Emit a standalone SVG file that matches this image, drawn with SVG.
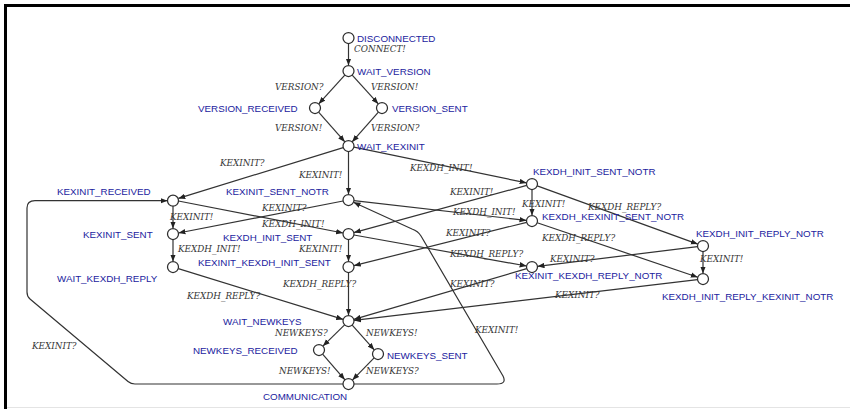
<svg xmlns="http://www.w3.org/2000/svg" width="850" height="409" viewBox="0 0 850 409">
  <style>
    .st circle { fill: #ffffff; stroke: #2e2e2e; stroke-width: 1.25; }
    .st text { font-family: "Liberation Sans", Arial, sans-serif; font-size: 9.8px; fill: #22229e; }
    .edges path, .edges line { fill: none; stroke: #333333; stroke-width: 1.2; marker-end: url(#arr); }
    .lbl { font-family: "DejaVu Serif", "Liberation Serif", serif; font-style: italic; font-size: 8.8px; fill: #353535; }
  </style>
  <defs>
    <marker id="arr" markerUnits="userSpaceOnUse" markerWidth="8" markerHeight="6" refX="7" refY="3" orient="auto">
      <path d="M0,0.3 L7,3 L0,5.7 Z" fill="#222222"/>
    </marker>
  </defs>

  <rect width="850" height="409" fill="#ffffff"/>
  <!-- frame -->
  <path d="M5.5,409 V5.5 H850" fill="none" stroke="#000000" stroke-width="3"/>
  <line x1="7" y1="407.5" x2="850" y2="407.5" stroke="#e4e4e4" stroke-width="1"/>

  <!-- transitions -->
  <g class="edges">
    <line x1="348.5" y1="43.5" x2="348.5" y2="65.5"/>
    <line x1="344.8" y1="75.1" x2="318.7" y2="103.9"/>
    <line x1="352.2" y1="75.1" x2="378.3" y2="103.9"/>
    <line x1="318.6" y1="112.1" x2="344.9" y2="141.9"/>
    <line x1="378.4" y1="112.1" x2="352.1" y2="141.9"/>
    <line x1="343.2" y1="147.6" x2="178.3" y2="198.4"/>
    <line x1="348.5" y1="151.5" x2="348.5" y2="194.5"/>
    <line x1="353.9" y1="147.1" x2="526.6" y2="182.9"/>
    <line x1="173" y1="205.5" x2="173" y2="228.5"/>
    <line x1="343.1" y1="201.0" x2="178.4" y2="233.0"/>
    <line x1="178.4" y1="201.0" x2="343.1" y2="233.0"/>
    <line x1="173" y1="239.5" x2="173" y2="261.5"/>
    <line x1="348.5" y1="239.5" x2="348.5" y2="261.5"/>
    <line x1="348.5" y1="272.5" x2="348.5" y2="315.5"/>
    <line x1="178.3" y1="268.6" x2="343.2" y2="319.4"/>
    <line x1="526.7" y1="185.4" x2="353.8" y2="232.6"/>
    <line x1="354.0" y1="200.6" x2="526.5" y2="220.4"/>
    <line x1="526.7" y1="222.3" x2="353.8" y2="265.7"/>
    <line x1="353.9" y1="235.0" x2="526.6" y2="266.0"/>
    <line x1="532" y1="189.5" x2="532" y2="215.5"/>
    <line x1="537.2" y1="185.9" x2="697.8" y2="244.1"/>
    <line x1="537.2" y1="222.8" x2="697.8" y2="277.2"/>
    <line x1="697.5" y1="246.7" x2="537.5" y2="266.3"/>
    <line x1="703" y1="251.5" x2="703" y2="273.5"/>
    <line x1="526.7" y1="268.6" x2="353.8" y2="319.4"/>
    <line x1="697.5" y1="279.6" x2="354.0" y2="320.4"/>
    <line x1="344.6" y1="324.9" x2="322.9" y2="346.1"/>
    <line x1="352.2" y1="325.1" x2="374.3" y2="349.9"/>
    <line x1="322.6" y1="354.2" x2="344.9" y2="379.8"/>
    <line x1="374.1" y1="357.9" x2="352.4" y2="380.1"/>
    <path d="M343,384 L135,384 Q131,384 128,381.5 L30,299 Q27,296.5 27,292 L27,208 Q27,200.7 35,200.7 L167.5,200.7"/>
    <path d="M354,384 L497,384 Q507,384 503,376 L421,236 Q418,231 412,229 L353.5,202.3"/>
  </g>

  <!-- transition labels -->
  <g class="lbl">
    <text x="354" y="52">CONNECT!</text>
    <text x="275" y="90">VERSION?</text>
    <text x="371" y="90">VERSION!</text>
    <text x="275" y="131">VERSION!</text>
    <text x="371" y="131">VERSION?</text>
    <text x="220" y="166">KEXINIT?</text>
    <text x="299" y="178">KEXINIT!</text>
    <text x="410" y="171">KEXDH_INIT!</text>
    <text x="170" y="220">KEXINIT!</text>
    <text x="262" y="211">KEXINIT?</text>
    <text x="262" y="227">KEXDH_INIT!</text>
    <text x="178" y="252">KEXDH_INIT!</text>
    <text x="299" y="252">KEXINIT!</text>
    <text x="283" y="287">KEXDH_REPLY?</text>
    <text x="187" y="299">KEXDH_REPLY?</text>
    <text x="450" y="195">KEXINIT!</text>
    <text x="522" y="207">KEXINIT!</text>
    <text x="453" y="215">KEXDH_INIT!</text>
    <text x="588" y="210">KEXDH_REPLY?</text>
    <text x="446" y="236">KEXINIT?</text>
    <text x="542" y="241">KEXDH_REPLY?</text>
    <text x="450" y="257">KEXDH_REPLY?</text>
    <text x="550" y="262">KEXINIT?</text>
    <text x="700" y="262">KEXINIT!</text>
    <text x="450" y="287">KEXINIT?</text>
    <text x="555" y="298">KEXINIT?</text>
    <text x="475" y="333">KEXINIT!</text>
    <text x="32" y="349">KEXINIT?</text>
    <text x="275" y="336">NEWKEYS?</text>
    <text x="366" y="336">NEWKEYS!</text>
    <text x="279" y="374">NEWKEYS!</text>
    <text x="366" y="374">NEWKEYS?</text>
  </g>

  <!-- states -->
  <g class="st" id="DISCONNECTED"><circle cx="348.5" cy="38" r="5.5"/><text x="357" y="41.5">DISCONNECTED</text></g>
  <g class="st" id="WAIT_VERSION"><circle cx="348.5" cy="71" r="5.5"/><text x="357" y="74.5">WAIT_VERSION</text></g>
  <g class="st" id="VERSION_RECEIVED"><circle cx="315" cy="108" r="5.5"/><text x="198" y="111.5">VERSION_RECEIVED</text></g>
  <g class="st" id="VERSION_SENT"><circle cx="382" cy="108" r="5.5"/><text x="392" y="111.5">VERSION_SENT</text></g>
  <g class="st" id="WAIT_KEXINIT"><circle cx="348.5" cy="146" r="5.5"/><text x="357" y="149.5">WAIT_KEXINIT</text></g>
  <g class="st" id="KEXINIT_RECEIVED"><circle cx="173" cy="200.7" r="5.5"/><text x="57" y="195">KEXINIT_RECEIVED</text></g>
  <g class="st" id="KEXINIT_SENT_NOTR"><circle cx="348.5" cy="200" r="5.5"/><text x="226" y="195">KEXINIT_SENT_NOTR</text></g>
  <g class="st" id="KEXINIT_SENT"><circle cx="173" cy="234" r="5.5"/><text x="83" y="237.5">KEXINIT_SENT</text></g>
  <g class="st" id="KEXDH_INIT_SENT"><circle cx="348.5" cy="234" r="5.5"/><text x="223" y="241">KEXDH_INIT_SENT</text></g>
  <g class="st" id="WAIT_KEXDH_REPLY"><circle cx="173" cy="267" r="5.5"/><text x="57" y="281.5">WAIT_KEXDH_REPLY</text></g>
  <g class="st" id="KEXINIT_KEXDH_INIT_SENT"><circle cx="348.5" cy="267" r="5.5"/><text x="198" y="266">KEXINIT_KEXDH_INIT_SENT</text></g>
  <g class="st" id="KEXDH_INIT_SENT_NOTR"><circle cx="532" cy="184" r="5.5"/><text x="533" y="174.5">KEXDH_INIT_SENT_NOTR</text></g>
  <g class="st" id="KEXDH_KEXINIT_SENT_NOTR"><circle cx="532" cy="221" r="5.5"/><text x="542" y="220">KEXDH_KEXINIT_SENT_NOTR</text></g>
  <g class="st" id="KEXINIT_KEXDH_REPLY_NOTR"><circle cx="532" cy="267" r="5.5"/><text x="515" y="279">KEXINIT_KEXDH_REPLY_NOTR</text></g>
  <g class="st" id="KEXDH_INIT_REPLY_NOTR"><circle cx="703" cy="246" r="5.5"/><text x="696" y="237">KEXDH_INIT_REPLY_NOTR</text></g>
  <g class="st" id="KEXDH_INIT_REPLY_KEXINIT_NOTR"><circle cx="703" cy="279" r="5.5"/><text x="662" y="300">KEXDH_INIT_REPLY_KEXINIT_NOTR</text></g>
  <g class="st" id="WAIT_NEWKEYS"><circle cx="348.5" cy="321" r="5.5"/><text x="223" y="325">WAIT_NEWKEYS</text></g>
  <g class="st" id="NEWKEYS_RECEIVED"><circle cx="319" cy="350" r="5.5"/><text x="193" y="354">NEWKEYS_RECEIVED</text></g>
  <g class="st" id="NEWKEYS_SENT"><circle cx="378" cy="354" r="5.5"/><text x="387" y="358.5">NEWKEYS_SENT</text></g>
  <g class="st" id="COMMUNICATION"><circle cx="348.5" cy="384" r="5.5"/><text x="263" y="400">COMMUNICATION</text></g>
</svg>
